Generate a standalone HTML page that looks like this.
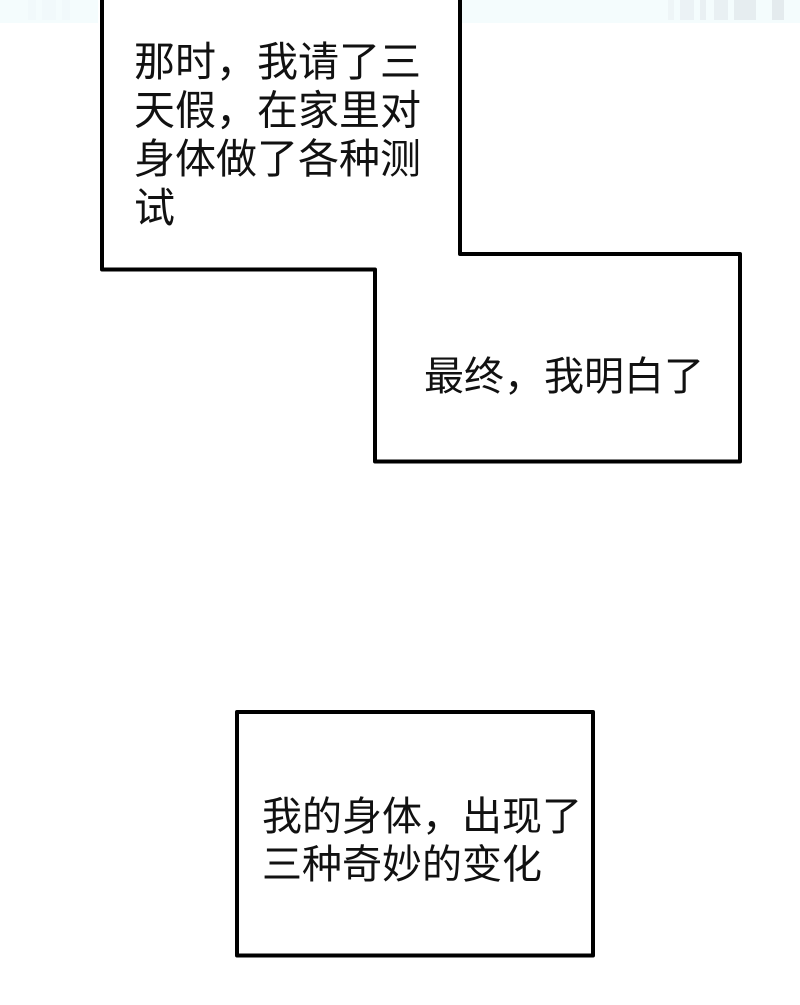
<!DOCTYPE html>
<html><head><meta charset="utf-8">
<style>
html,body{margin:0;padding:0;background:#fff;width:800px;height:1005px;overflow:hidden}
svg{display:block}
text{font-family:"Liberation Sans","Noto Sans CJK SC",sans-serif;font-size:40px;fill:#111}
.a{font-size:41px}
</style></head>
<body>
<svg width="800" height="1005" viewBox="0 0 800 1005" xmlns="http://www.w3.org/2000/svg">
<rect x="0" y="0" width="98" height="23" fill="#f4fcfd"/>
<rect x="28" y="0" width="8" height="20" fill="#f1f9fb"/>
<rect x="42" y="0" width="14" height="20" fill="#f1f9fb"/>
<rect x="62" y="0" width="8" height="20" fill="#f1f9fb"/>
<rect x="462" y="0" width="338" height="23" fill="#f4fcfd"/>
<rect x="668" y="0" width="6" height="20" fill="#eef5f7"/>
<rect x="680" y="0" width="14" height="20" fill="#ebf2f5"/>
<rect x="700" y="0" width="6" height="20" fill="#e9f0f3"/>
<rect x="714" y="0" width="14" height="20" fill="#e9f0f3"/>
<rect x="734" y="0" width="22" height="20" fill="#e6edf0"/>
<rect x="772" y="0" width="12" height="20" fill="#e4ebee"/>
<path d="M102 -5V269.5H375V461.5H740V254H460V-5" fill="#fff" stroke="#000" stroke-width="4" stroke-linejoin="round"/>
<rect x="237" y="712" width="356" height="243.5" fill="#fff" stroke="#000" stroke-width="4" stroke-linejoin="round"/>
<text class="a" x="134" y="76">那时，我请了三</text>
<text class="a" x="134" y="124.5">天假，在家里对</text>
<text class="a" x="134" y="173">身体做了各种测</text>
<text class="a" x="134" y="222">试</text>
<text x="424" y="390">最终，我明白了</text>
<text x="262" y="830">我的身体，出现了</text>
<text x="262" y="878">三种奇妙的变化</text>
</svg>
</body></html>
